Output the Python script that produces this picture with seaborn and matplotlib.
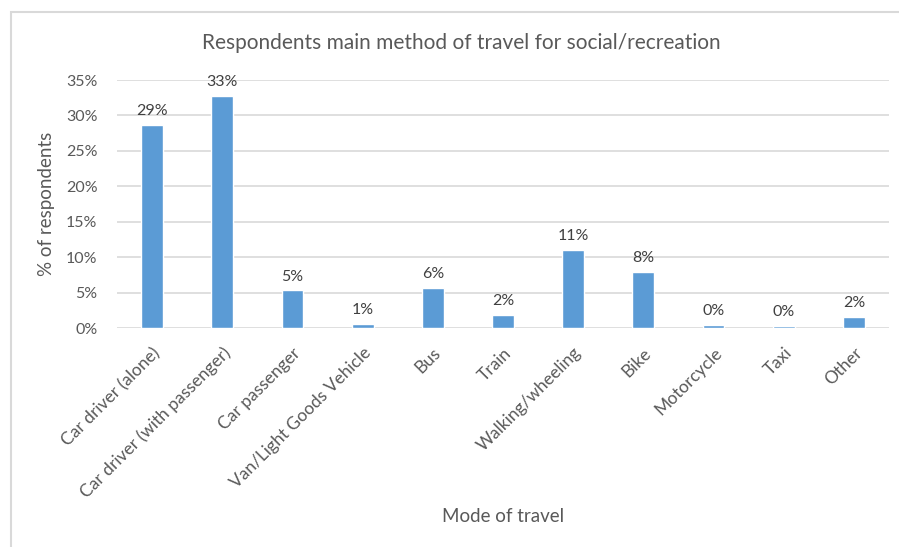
import matplotlib
matplotlib.use("Agg")
import matplotlib.pyplot as plt
import matplotlib.patches as patches
from matplotlib.ticker import PercentFormatter, MultipleLocator
import seaborn as sns
import pandas as pd

modes = ['Car driver (alone)', 'Car driver (with passenger)', 'Car passenger',
         'Van/Light Goods Vehicle', 'Bus', 'Train', 'Walking/wheeling', 'Bike',
         'Motorcycle', 'Taxi', 'Other']
share = [28.6, 32.7, 5.3, 0.6, 5.7, 1.9, 11.0, 7.9, 0.4, 0.25, 1.5]

df = pd.DataFrame({'mode': modes, 'share': share})

sns.set_style('white')
plt.rcParams['font.family'] = ['Lato', 'DejaVu Sans']

fig = plt.figure(figsize=(8.99, 5.47), dpi=100)
ax = fig.add_axes([117 / 899, 1 - 328 / 547, (889 - 117) / 899, (328 - 80) / 547])

sns.barplot(data=df, x='mode', y='share', color='#5B9BD5', width=0.31,
            saturation=1, ax=ax, zorder=3)

# labels over bars
labels = [f'{round(v):.0f}%' for v in share]
ax.bar_label(ax.containers[0], labels=labels, padding=5, fontsize=11.5, color='#404040')

ax.set_ylim(0, 35)
ax.set_xlim(-0.5, len(modes) - 0.5)
ax.yaxis.set_major_locator(MultipleLocator(5))
ax.yaxis.set_major_formatter(PercentFormatter(xmax=100, decimals=0))
ax.grid(axis='y', color='#D9D9D9', linewidth=1.2, zorder=0)
for s in ax.spines.values():
    s.set_visible(False)
ax.tick_params(axis='both', length=0, labelsize=11.5, labelcolor='#595959')
ax.tick_params(axis='y', pad=14)
ax.tick_params(axis='x', pad=12, labelsize=12.5)
plt.setp(ax.get_xticklabels(), rotation=45, ha='right', rotation_mode='anchor')

ax.set_xlabel('')
ax.set_ylabel('% of respondents', fontsize=13.5, color='#595959', labelpad=8)
fig.text(503 / 899, 1 - 517 / 547, 'Mode of travel', fontsize=13.5, color='#595959',
         ha='center', va='center')
fig.text(461 / 899, 1 - 43 / 547, 'Respondents main method of travel for social/recreation',
         fontsize=15, color='#595959', ha='center', va='center')

# chart area border
fig.patches.append(patches.Rectangle((11 / 899, -0.05), 1.2, 1 - 12 / 547 + 0.05,
                                     transform=fig.transFigure, fill=False,
                                     edgecolor='#D9D9D9', linewidth=1.5))

fig.savefig('out.png', dpi=100)
